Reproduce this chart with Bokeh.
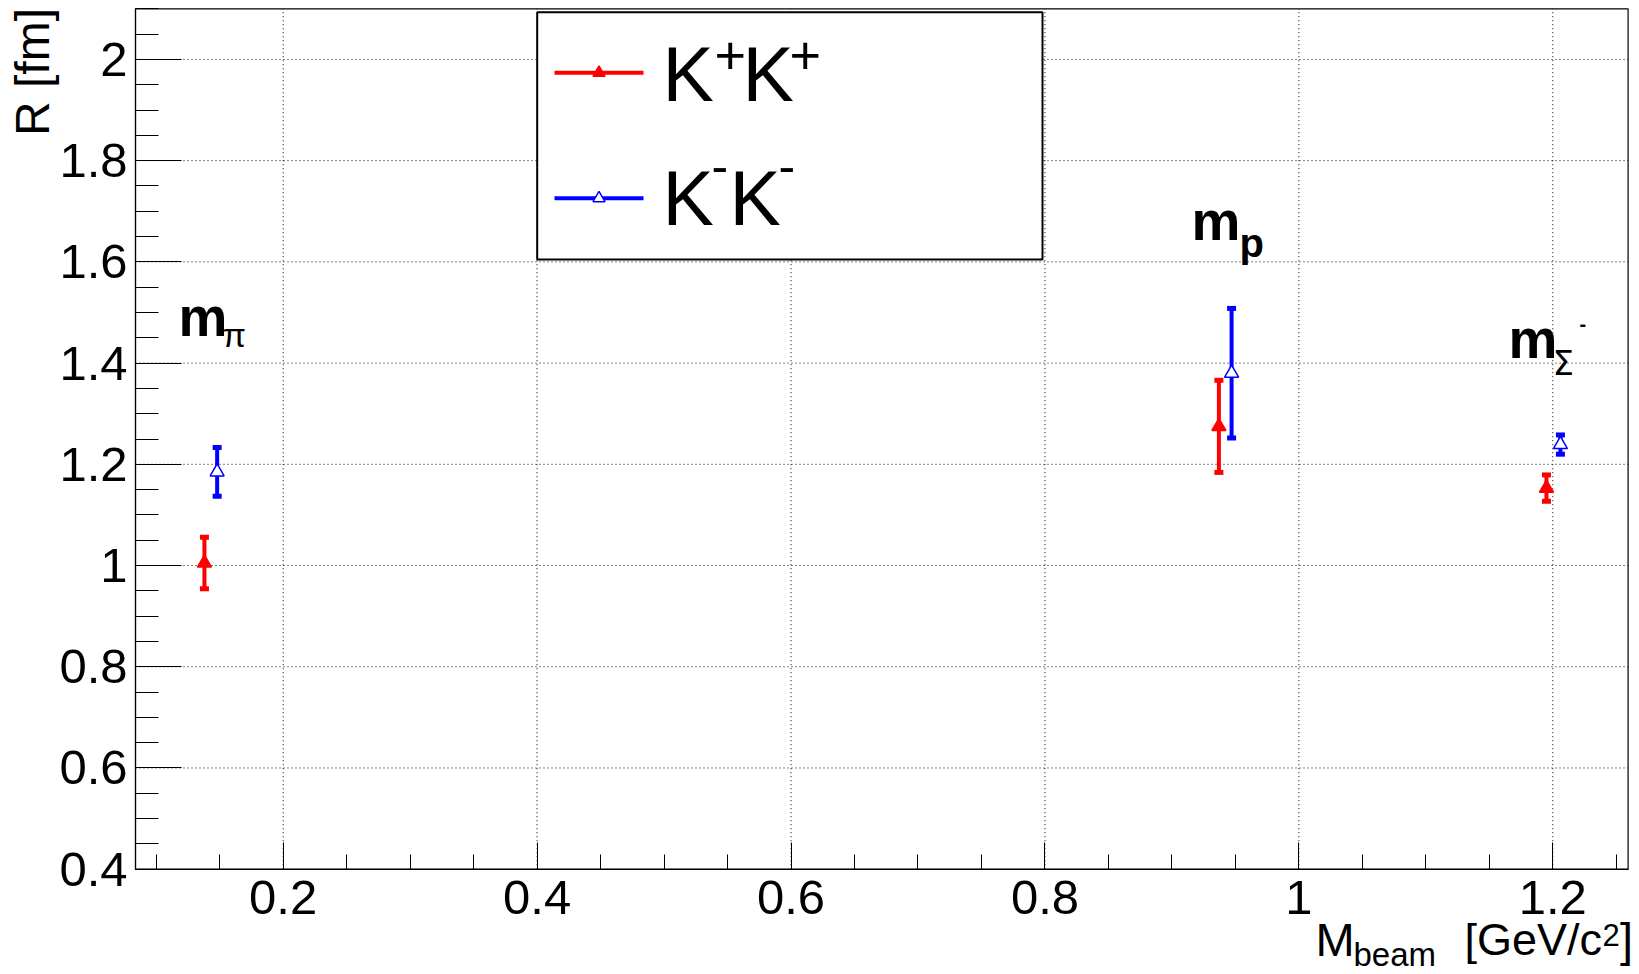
import math
import numpy as np
from bokeh.plotting import figure
from bokeh.models import Range1d, FixedTicker, CustomJSTickFormatter, Label
from bokeh.embed import file_html
from bokeh.resources import INLINE

# ---------------- data ----------------
x_kplus = [0.138, 0.937, 1.195]      # beam mass (pi, p, Sigma-) for K+K+
r_kplus = [1.005, 1.275, 1.153]
e_kplus = [0.051, 0.091, 0.026]

x_kminus = [0.148, 0.947, 1.206]     # same masses, shifted for K-K-
r_kminus = [1.185, 1.380, 1.239]
e_kminus = [0.048, 0.128, 0.019]

x_major = [0.2, 0.4, 0.6, 0.8, 1.0, 1.2]
y_major = [0.4, 0.6, 0.8, 1.0, 1.2, 1.4, 1.6, 1.8, 2.0]
x_minor = [float(v) for v in np.round(np.arange(0.10, 1.26, 0.05), 2)]
y_minor = [float(v) for v in np.round(np.arange(0.40, 2.11, 0.05), 2)]

# axis frame (data ranges of the drawn box)
XMIN0, XMAX0 = 0.0837, 1.2593
YMIN0, YMAX0 = 0.4, 2.1

# canvas / frame geometry in pixels
W, H = 1639, 974
FL, FR, FT, FB = 135.0, 1627.6, 8.3, 868.7
SXU = (FR - FL) / (XMAX0 - XMIN0)
SYU = (FB - FT) / (YMAX0 - YMIN0)
X_START = XMIN0 - FL / SXU
X_END = XMIN0 + (W - FL) / SXU
Y_END = YMAX0 + FT / SYU
Y_START = YMAX0 - (H - FT) / SYU


def dx(px):
    return X_START + px / SXU


def dy(py):
    return Y_END - py / SYU


p = figure(width=W, height=H,
           x_range=Range1d(X_START, X_END), y_range=Range1d(Y_START, Y_END),
           output_backend="svg", toolbar_location=None,
           min_border_left=0, min_border_right=0,
           min_border_top=0, min_border_bottom=0)
p.background_fill_color = "white"
p.border_fill_color = "white"
p.outline_line_color = None
p.xgrid.visible = False
p.ygrid.visible = False

fmt = CustomJSTickFormatter(code="return String(Number(tick.toFixed(3)));")
p.xaxis.ticker = FixedTicker(ticks=x_major, minor_ticks=x_minor)
p.yaxis.ticker = FixedTicker(ticks=y_major, minor_ticks=y_minor)
p.xaxis.fixed_location = YMIN0
p.yaxis.fixed_location = XMIN0
p.xaxis.bounds = (XMIN0, XMAX0)
p.yaxis.bounds = (YMIN0, YMAX0)
for ax in (p.xaxis[0], p.yaxis[0]):
    ax.formatter = fmt
    ax.major_tick_out = 0
    ax.minor_tick_out = 0
    ax.major_tick_line_color = "black"
    ax.minor_tick_line_color = "black"
    ax.axis_line_color = "black"
    ax.axis_line_width = 1.2
    ax.major_label_text_font = "Liberation Sans"
    ax.major_label_text_font_size = "49px"
    ax.major_label_text_color = "black"
p.yaxis.major_tick_in = 46
p.yaxis.minor_tick_in = 23
p.xaxis.major_tick_in = 27
p.xaxis.minor_tick_in = 15
p.yaxis.major_label_standoff = 8
p.xaxis.major_label_standoff = 12

# dotted grid at the major ticks, inside the box
p.segment(x0=x_major, x1=x_major, y0=[YMIN0] * len(x_major), y1=[YMAX0] * len(x_major),
          line_color="black", line_width=1, line_dash="1 3")
p.segment(x0=[XMIN0] * len(y_major), x1=[XMAX0] * len(y_major), y0=y_major, y1=y_major,
          line_color="black", line_width=1, line_dash="1 3")
# frame box
p.quad(left=[XMIN0], right=[XMAX0], bottom=[YMIN0], top=[YMAX0],
       fill_color=None, line_color="black", line_width=1.2)


# ---------------- error bars and markers ----------------
def draw_series(xs, rs, es, color, fill):
    lo = [r - e for r, e in zip(rs, es)]
    hi = [r + e for r, e in zip(rs, es)]
    p.segment(x0=xs, y0=lo, x1=xs, y1=hi, line_color=color, line_width=4)
    p.rect(x=xs + xs, y=lo + hi, width=9, height=5,
           width_units="screen", height_units="screen",
           fill_color=color, line_color=None)
    p.scatter(x=xs, y=rs, marker="triangle", size=14,
              fill_color=fill, line_color=color, line_width=1.5)


draw_series(x_kplus, r_kplus, e_kplus, "#ff0000", "#ff0000")
draw_series(x_kminus, r_kminus, e_kminus, "#0000ff", "white")

# ---------------- legend (drawn by hand) ----------------
p.quad(left=[dx(536.7)], right=[dx(1042)], top=[dy(11.7)], bottom=[dy(259)],
       fill_color="white", line_color="black", line_width=2)
for yy, col, fill in ((72.3, "#ff0000", "#ff0000"), (197.7, "#0000ff", "white")):
    p.segment(x0=[dx(554)], x1=[dx(643)], y0=[dy(yy)], y1=[dy(yy)],
              line_color=col, line_width=4)
    p.scatter(x=[dx(598.5)], y=[dy(yy)], marker="triangle", size=12,
              fill_color=fill, line_color=col, line_width=1.5)

MID = 0.35  # em offset between baseline and middle of the text box


def lab(text, px, py, size, align="left", bold=False, font="Liberation Sans"):
    # (px, py): left/right end on the baseline, in canvas pixels
    p.add_layout(Label(x=dx(px), y=dy(py - MID * size), text=text,
                       text_font=font, text_font_size=f"{size}px",
                       text_font_style="bold" if bold else "normal",
                       text_color="black", text_align=align,
                       text_baseline="middle"))


# legend texts
lab("K", 662, 100, 77)
lab("+", 714, 74, 54)
lab("K", 742, 100, 77)
lab("+", 789, 74, 54)
lab("K", 662, 224, 77)
lab("-", 711, 182, 50)
lab("K", 729, 224, 77)
lab("-", 778, 182, 50)

# particle mass labels
lab("m", 178, 336, 55, bold=True)
lab("π", 222, 346, 34)
lab("m", 1191, 240, 55, bold=True)
lab("p", 1239, 256, 40, bold=True)
lab("m", 1508, 358, 55, bold=True)
lab("Σ", 1552, 374, 34, font="DejaVu Sans")
lab("-", 1579, 330, 20, bold=True)

# y axis title (rotated, reads upwards, ends at the top of the axis)
p.add_layout(Label(x=dx(48.3 - MID * 48), y=dy(7.5), text="R [fm]",
                   text_font="Liberation Sans", text_font_size="48px",
                   text_color="black", text_align="right",
                   text_baseline="middle", angle=math.pi / 2))

# x axis title
lab("M", 1315, 955, 47)
lab("beam", 1353, 966, 33)
lab("[GeV/c", 1601.5, 955, 45, align="right")
lab("2", 1602, 945, 31)
lab("]", 1632.6, 955, 47, align="right")

open("out.html", "w").write(file_html(p, INLINE))
